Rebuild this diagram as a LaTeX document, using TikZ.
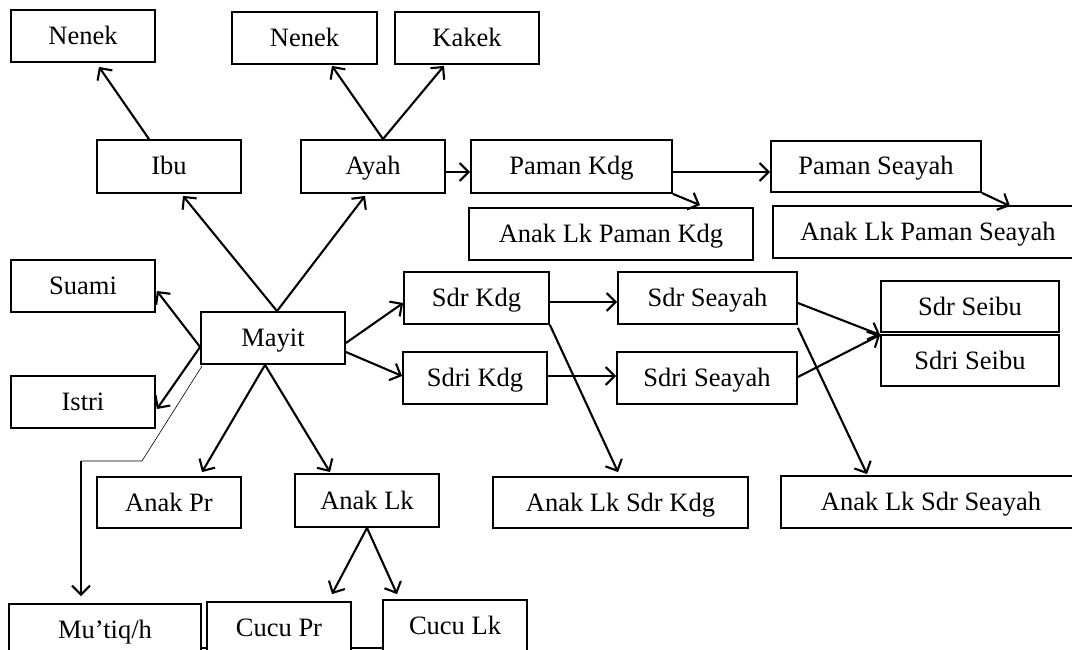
\documentclass[tikz,border=0pt]{standalone}
\usepackage{fontspec}
\setmainfont{Liberation Serif}
\usetikzlibrary{arrows.meta}
\tikzset{
  box/.style={draw, line width=1.8pt, rectangle, inner sep=0pt, font=\fontsize{26.5}{30}\selectfont, text height=20pt, text depth=3pt},
  arr/.style={line width=2.1pt, -{Straight Barb[length=9pt,width=18pt,line width=2.1pt]}},
  thinline/.style={line width=0.6pt},
  edge/.style={line width=1.8pt}
}
\begin{document}
\begin{tikzpicture}[x=1pt,y=-1pt]
\useasboundingbox (0,0) rectangle (1072,650);
\clip (0,0) rectangle (1072,650);
% nodes
\node[box, minimum width=144pt, minimum height=52pt] (nenekI) at (83,36) {Nenek};
\node[box, minimum width=144pt, minimum height=53pt] (ibu) at (169,166.5) {Ibu};
\node[box, minimum width=145pt, minimum height=52pt] (nenekA) at (304.5,38) {Nenek};
\node[box, minimum width=144pt, minimum height=52pt] (kakek) at (467,38) {Kakek};
\node[box, minimum width=144pt, minimum height=53pt] (ayah) at (373,166.5) {Ayah};
\node[box, minimum width=201pt, minimum height=53pt] (pamanK) at (571.5,166.5) {Paman Kdg};
\node[box, minimum width=284pt, minimum height=52pt] (anakPK) at (611,234) {Anak Lk Paman Kdg};
\node[box, minimum width=210pt, minimum height=51pt] (pamanS) at (876,166.5) {Paman Seayah};
\node[box, minimum width=310pt, minimum height=52pt] (anakPS) at (928,232) {Anak Lk Paman Seayah};
\node[box, minimum width=144pt, minimum height=52pt] (suami) at (83,286) {Suami};
\node[box, minimum width=144pt, minimum height=52pt] (mayit) at (273,338) {Mayit};
\node[box, minimum width=144pt, minimum height=52pt] (istri) at (83,402) {Istri};
\node[box, minimum width=145pt, minimum height=52pt] (sdrK) at (476.5,298) {Sdr Kdg};
\node[box, minimum width=144pt, minimum height=52pt] (sdriK) at (475,378) {Sdri Kdg};
\node[box, minimum width=179pt, minimum height=52pt] (sdrS) at (707.5,298) {Sdr Seayah};
\node[box, minimum width=180pt, minimum height=52pt] (sdriS) at (707,378) {Sdri Seayah};
\node[box, minimum width=178pt, minimum height=51pt] (sdrSb) at (970,306.5) {Sdr Seibu};
\node[box, minimum width=178pt, minimum height=51pt] (sdriSb) at (970,360.5) {Sdri Seibu};
\node[box, minimum width=144pt, minimum height=51pt] (anakPr) at (169,502.5) {Anak Pr};
\node[box, minimum width=144pt, minimum height=53pt] (anakLk) at (367,500.5) {Anak Lk};
\node[box, minimum width=255pt, minimum height=51pt] (anakSK) at (620.5,502.5) {Anak Lk Sdr Kdg};
\node[box, minimum width=300pt, minimum height=52pt] (anakSS) at (931,502) {Anak Lk Sdr Seayah};
\node[box, minimum width=192pt, minimum height=52pt] (mutiq) at (105,630) {Mu’tiq/h};
\node[box, minimum width=144pt, minimum height=52pt] (cucuPr) at (279,628) {Cucu Pr};
\node[box, minimum width=144pt, minimum height=52pt] (cucuLk) at (455,626) {Cucu Lk};
% connectors
\draw[arr] ([xshift=-20pt]ibu.north) -- ([xshift=16pt,yshift=-4pt]nenekI.south);
\draw[arr] ([xshift=10pt]ayah.north) -- ([xshift=27.5pt,yshift=-1pt]nenekA.south);
\draw[arr] ([xshift=10pt]ayah.north) -- ([xshift=-23pt,yshift=-1pt]kakek.south);
\draw[arr] ([xshift=4pt]mayit.north) -- ([xshift=14pt,yshift=-2pt]ibu.south);
\draw[arr] ([xshift=4pt]mayit.north) -- ([xshift=-8pt,yshift=-2pt]ayah.south);
\draw[arr] ([yshift=-5.5pt]ayah.east) -- ([yshift=-5.5pt]pamanK.west);
\draw[arr] ([yshift=-5.5pt]pamanK.east) -- ([yshift=-5.5pt]pamanS.west);
\draw[arr] (pamanK.south east) -- ([xshift=89pt,yshift=2pt]anakPK.north);
\draw[arr] (pamanS.south east) -- ([xshift=82pt,yshift=-1pt]anakPS.north);
\draw[arr] ([yshift=-9pt]mayit.west) -- ([xshift=1pt,yshift=-5pt]suami.east);
\draw[arr] ([yshift=-9pt]mayit.west) -- ([xshift=1pt,yshift=-7pt]istri.east);
\draw[arr] ([yshift=-5pt]mayit.east) -- ([yshift=-5pt]sdrK.west);
\draw[arr] ([yshift=-14pt]mayit.east) -- ([yshift=2pt]sdriK.west);
\draw[arr] ([yshift=-4pt]sdrK.east) -- ([yshift=-4pt]sdrS.west);
\draw[arr] ([yshift=2pt]sdriK.east) -- ([yshift=2pt]sdriS.west);
\draw[arr] ([yshift=-5pt]sdrS.east) -- ([yshift=-2pt]sdrSb.south west);
\draw[arr] ([yshift=1pt]sdriS.east) -- ([yshift=-2pt]sdrSb.south west);
\draw[arr] (sdrK.south east) -- ([xshift=-2.5pt,yshift=4pt]anakSK.north);
\draw[arr] ([yshift=-3pt]sdrS.south east) -- ([xshift=-64pt,yshift=1pt]anakSS.north);
\draw[arr] ([xshift=-8pt]mayit.south) -- ([xshift=33pt,yshift=4pt]anakPr.north);
\draw[arr] ([xshift=-8pt]mayit.south) -- ([xshift=-37pt,yshift=1pt]anakLk.north);
\draw[arr] (anakLk.south) -- ([xshift=53pt,yshift=7pt]cucuPr.north);
\draw[arr] (anakLk.south) -- ([xshift=-58pt,yshift=5pt]cucuLk.north);
\coordinate (bend) at (142,461);
\coordinate (corner) at (81,461);
\draw[thinline] ([xshift=2pt,yshift=-1pt]mayit.south west) -- (bend) -- (corner);
\draw[arr] (corner) -- ([xshift=-24pt,yshift=7pt]mutiq.north);
% bottom edge pieces
\draw[edge] (mutiq.east |- 0,648) -- (cucuPr.west |- 0,648);
\draw[edge] (cucuPr.east |- 0,648) -- (cucuLk.west |- 0,648);
\end{tikzpicture}
\end{document}
